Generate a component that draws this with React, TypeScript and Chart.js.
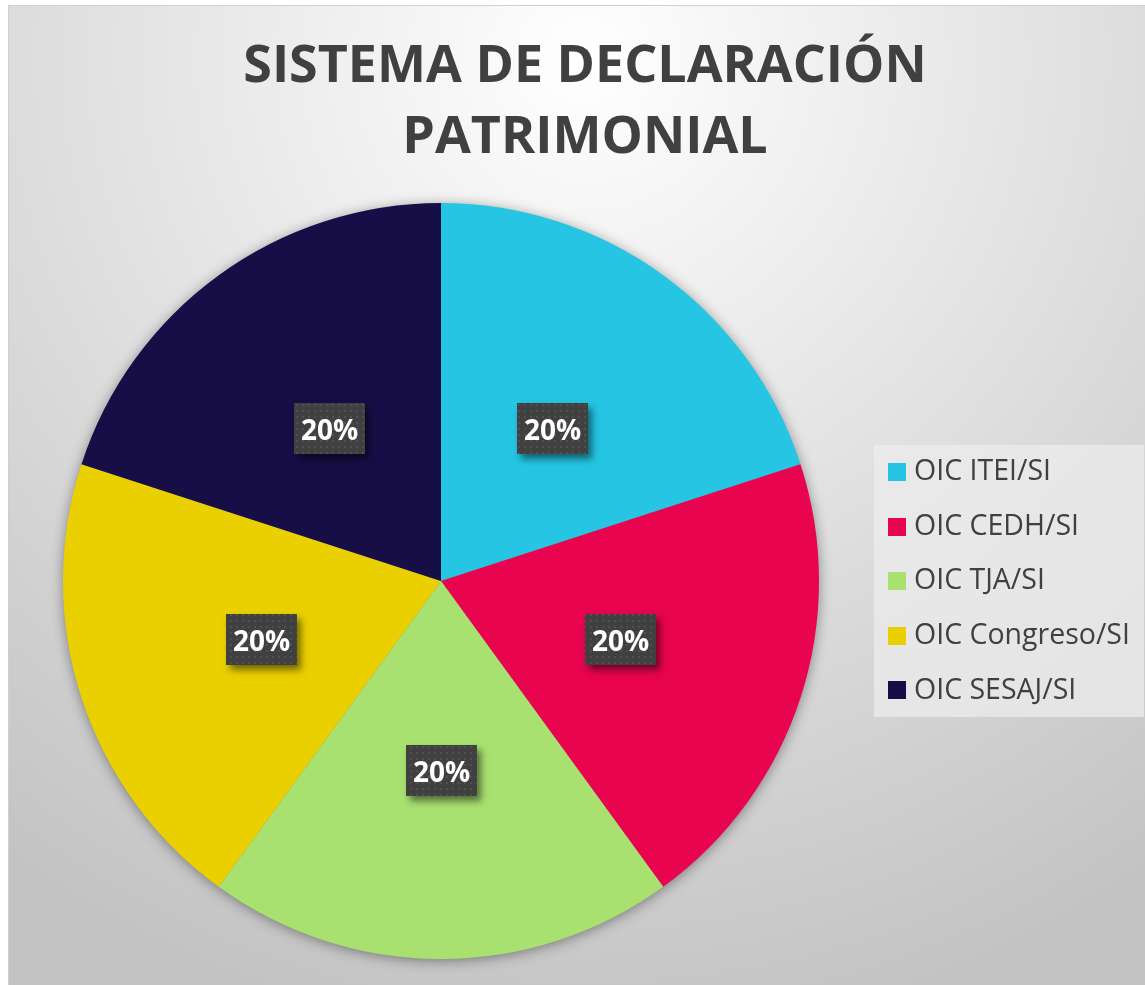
import React, { useEffect, useRef } from "react";
import { Chart, registerables } from "chart.js";

Chart.register(...registerables);

const TITLE_LINES = ["SISTEMA DE DECLARACIÓN", "PATRIMONIAL"];
const CATEGORIES = ["OIC ITEI/SI", "OIC CEDH/SI", "OIC TJA/SI", "OIC Congreso/SI", "OIC SESAJ/SI"];
const VALUES = [1, 1, 1, 1, 1];
const COLORS = ["#25C5E3", "#E8044F", "#A8E16F", "#EAD000", "#180E47"];

const W = 1145;
const H = 985;

function makeDotPattern(ctx: CanvasRenderingContext2D) {
  const c = document.createElement("canvas");
  c.width = 6;
  c.height = 6;
  const p = c.getContext("2d")!;
  p.fillStyle = "#404040";
  p.fillRect(0, 0, 6, 6);
  p.fillStyle = "#505050";
  p.fillRect(2, 2, 2, 2);
  return ctx.createPattern(c, "repeat");
}

const decorPlugin = {
  id: "decor",
  beforeDraw(chart: any) {
    const ctx: CanvasRenderingContext2D = chart.ctx;
    ctx.save();
    ctx.fillStyle = "#ffffff";
    ctx.fillRect(0, 0, W, H);
    const g = ctx.createRadialGradient(585, 60, 0, 585, 60, 1000);
    g.addColorStop(0, "#ffffff");
    g.addColorStop(1, "#c2c2c2");
    ctx.fillStyle = g;
    ctx.fillRect(8.5, 5.5, W + 20, H + 20);
    ctx.strokeStyle = "#cfcfcf";
    ctx.lineWidth = 1;
    ctx.strokeRect(8.5, 5.5, W + 20, H + 20);
    ctx.restore();
  },
  beforeDatasetsDraw(chart: any) {
    const meta = chart.getDatasetMeta(0);
    const arc = meta.data[0];
    if (!arc) return;
    const ctx: CanvasRenderingContext2D = chart.ctx;
    ctx.save();
    ctx.shadowColor = "rgba(0,0,0,0.45)";
    ctx.shadowBlur = 14;
    ctx.shadowOffsetX = 0;
    ctx.shadowOffsetY = 2;
    ctx.fillStyle = "#888";
    ctx.beginPath();
    ctx.arc(arc.x, arc.y, arc.outerRadius - 1, 0, Math.PI * 2);
    ctx.fill();
    ctx.restore();
  },
  afterDatasetsDraw(chart: any) {
    const ctx: CanvasRenderingContext2D = chart.ctx;
    const meta = chart.getDatasetMeta(0);
    const data: number[] = chart.data.datasets[0].data;
    const total = data.reduce((a, b) => a + b, 0);
    const pattern = makeDotPattern(ctx);
    meta.data.forEach((el: any, i: number) => {
      const pos = el.tooltipPosition(false);
      const bw = 71;
      const bh = 51;
      const x = Math.round(pos.x - bw / 2);
      const y = Math.round(pos.y - bh / 2);
      ctx.save();
      ctx.shadowColor = "rgba(0,0,0,0.5)";
      ctx.shadowBlur = 7;
      ctx.shadowOffsetX = 4;
      ctx.shadowOffsetY = 5;
      ctx.fillStyle = "#404040";
      ctx.fillRect(x, y, bw, bh);
      ctx.restore();
      ctx.save();
      if (pattern) ctx.fillStyle = pattern;
      ctx.fillRect(x, y, bw, bh);
      ctx.fillStyle = "#ffffff";
      ctx.font = "bold 28px 'Open Sans'";
      ctx.textAlign = "center";
      ctx.textBaseline = "alphabetic";
      const pct = Math.round((data[i] / total) * 100) + "%";
      ctx.fillText(pct, x + bw / 2, y + 37);
      ctx.restore();
    });
  },
  afterDraw(chart: any) {
    const ctx: CanvasRenderingContext2D = chart.ctx;
    ctx.save();
    // title
    ctx.fillStyle = "#404040";
    ctx.font = "bold 52px 'Open Sans'";
    ctx.textAlign = "center";
    ctx.textBaseline = "alphabetic";
    ctx.fillText(TITLE_LINES[0], 585, 82);
    ctx.fillText(TITLE_LINES[1], 585, 153);
    // legend
    ctx.fillStyle = "rgba(236,236,236,0.75)";
    ctx.fillRect(874, 445, 270, 272);
    const labels: string[] = chart.data.labels;
    const colors: string[] = chart.data.datasets[0].backgroundColor;
    ctx.font = "28.5px 'Open Sans'";
    ctx.textAlign = "left";
    ctx.textBaseline = "middle";
    labels.forEach((lab, i) => {
      const cy = 472 + i * 54.6;
      ctx.fillStyle = colors[i];
      ctx.fillRect(888, Math.round(cy - 9), 18, 18);
      ctx.fillStyle = "#404040";
      ctx.fillText(lab, 914, cy);
    });
    ctx.restore();
  },
};

export default function App() {
  const ref = useRef<HTMLCanvasElement | null>(null);
  useEffect(() => {
    if (!ref.current) return;
    const chart = new Chart(ref.current, {
      type: "pie",
      data: {
        labels: CATEGORIES,
        datasets: [
          {
            data: VALUES,
            backgroundColor: COLORS,
            borderWidth: 0,
            hoverOffset: 0,
            offset: 0,
          },
        ],
      },
      options: {
        responsive: false,
        animation: false,
        events: [],
        layout: { padding: { left: 63, right: 326, top: 203, bottom: 26 } },
        plugins: {
          legend: { display: false },
          title: { display: false },
          tooltip: { enabled: false },
        },
      },
      plugins: [decorPlugin],
    });
    return () => chart.destroy();
  }, []);
  return (
    <div style={{ position: "absolute", left: 0, top: 0, width: W, height: H }}>
      <canvas ref={ref} width={W} height={H} style={{ display: "block", width: W, height: H }} />
    </div>
  );
}
